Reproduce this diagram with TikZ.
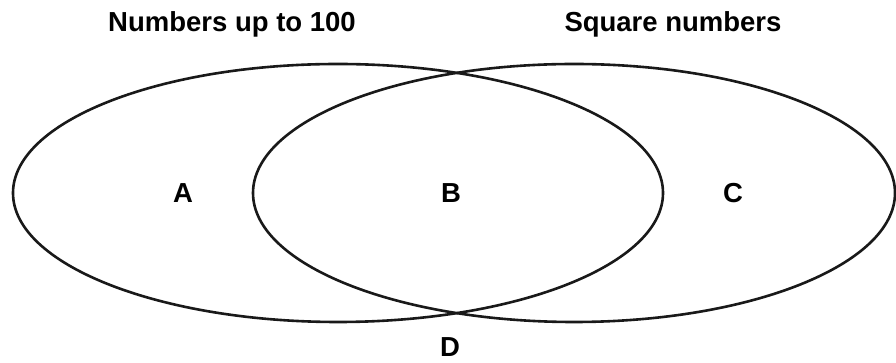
\documentclass[tikz,border=0pt]{standalone}
\usepackage{fontspec}
\setmainfont{Liberation Sans}
\usepackage{tikz}

\begin{document}
\begin{tikzpicture}[x=1pt, y=1pt,
    set/.style={line width=2.6pt, black!90},
    title/.style={font=\bfseries\fontsize{27.5}{30}\selectfont, anchor=base, inner sep=0pt},
    region/.style={font=\bfseries\fontsize{27.5}{30}\selectfont, inner sep=0pt}]
    \useasboundingbox (0,0) rectangle (896,363);
    % Sets
    \draw[set] (338,170) ellipse [x radius=325pt, y radius=129pt];
    \draw[set] (574,170) ellipse [x radius=321pt, y radius=129pt];
    % Titles
    \node[title] (numbers) at (232,331) {Numbers up to 100};
    \node[title] (squares) at (673,331) {Square numbers};
    % Regions
    \node[region] (a) at (183,170) {A};
    \node[region] (b) at (451,170) {B};
    \node[region] (c) at (733,170) {C};
    \node[region] (d) at (450,16) {D};
\end{tikzpicture}
\end{document}
